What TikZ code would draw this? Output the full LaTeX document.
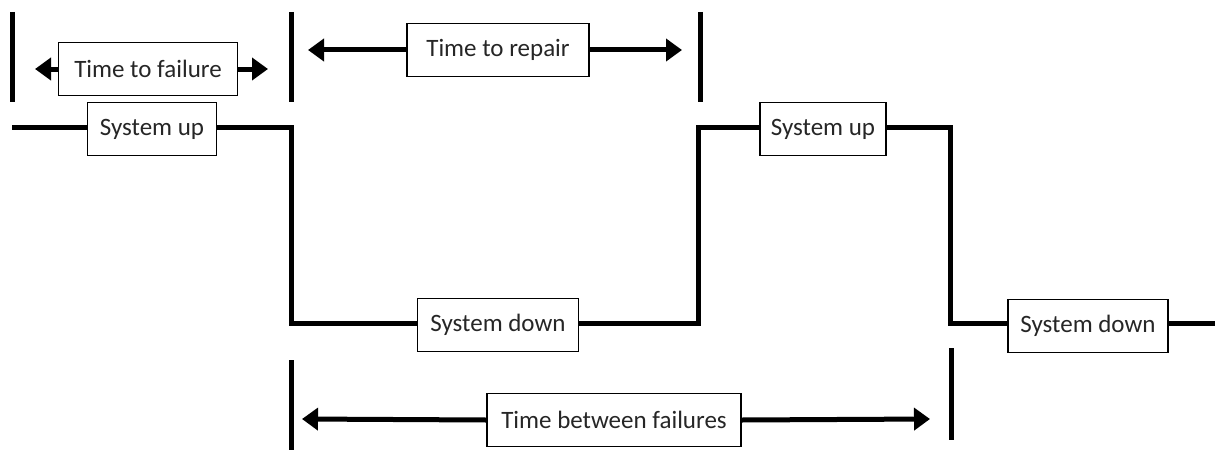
\documentclass[tikz,border=0pt]{standalone}
\usepackage{fontspec}
\setmainfont{Carlito}
\usetikzlibrary{arrows.meta}
\begin{document}
\begin{tikzpicture}[x=1pt,y=-1pt,
  label box/.style={draw=black, line width=1.8pt, fill=white, inner sep=0pt,
    minimum height=53pt, font=\fontsize{25}{30}\selectfont, text=black!85},
  signal/.style={line width=5pt, line join=miter},
  marker/.style={line width=5pt},
  span/.style={line width=5pt, -{Triangle[length=16pt,width=22pt]}}]
\useasboundingbox (0,0) rectangle (1217,452);

% state signal: up, down, up, down
\coordinate (s0) at (12,127);
\coordinate (s1) at (291,127);
\coordinate (s2) at (291,323);
\coordinate (s3) at (698,323);
\coordinate (s4) at (698,127);
\coordinate (s5) at (950,127);
\coordinate (s6) at (950,323);
\coordinate (s7) at (1215,323);
\draw[signal] (s0) -- (s1) -- (s2) -- (s3) -- (s4) -- (s5) -- (s6) -- (s7);

% interval markers
\coordinate (m1t) at (12,12);    \coordinate (m1b) at (12,102);
\coordinate (m2t) at (291,12);   \coordinate (m2b) at (291,102);
\coordinate (m3t) at (700,12);   \coordinate (m3b) at (700,102);
\coordinate (m4t) at (291,360);  \coordinate (m4b) at (291,450);
\coordinate (m5t) at (951,348);  \coordinate (m5b) at (951,440);
\foreach \m in {1,...,5} \draw[marker] (m\m t) -- (m\m b);

% state labels
\node[label box, minimum width=129pt] (up1) at (152,129) {System up};
\node[label box, minimum width=161pt] (down1) at (498,325) {System down};
\node[label box, minimum width=126pt] (up2) at (823,129) {System up};
\node[label box, minimum width=160pt] (down2) at (1088,326) {System down};

% interval labels with arrows
\node[label box, minimum width=179pt] (ttf) at (148,69) {Time to failure};
\coordinate (ttfL) at (35,69);  \coordinate (ttfR) at (268,69);
\draw[span] (ttf.west) -- (ttfL);
\draw[span] (ttf.east) -- (ttfR);

\node[label box, minimum width=182pt] (ttr) at (498,50) {Time to repair};
\coordinate (ttrL) at (308,50);  \coordinate (ttrR) at (682,50);
\draw[span] (ttr.west) -- (ttrL);
\draw[span] (ttr.east) -- (ttrR);

\node[label box, minimum width=254pt] (tbf) at (614,420) {Time between failures};
\coordinate (tbfL) at (302,419);  \coordinate (tbfR) at (930,419);
\draw[span] (tbf.west) -- (tbfL);
\draw[span] (tbf.east) -- (tbfR);
\end{tikzpicture}
\end{document}
